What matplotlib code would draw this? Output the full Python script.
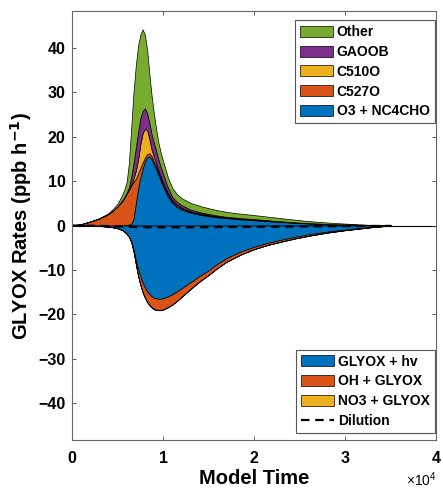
import numpy as np
import matplotlib.pyplot as plt
from matplotlib.ticker import ScalarFormatter

plt.rcParams['font.family'] = ['Liberation Sans', 'DejaVu Sans']
plt.rcParams['font.weight'] = 'bold'
plt.rcParams['mathtext.default'] = 'regular'

# Tempo do modelo (s)
tempo = [0, 1000, 2000, 3000, 4000, 4500, 5000, 5500, 5750, 6000, 6250, 6500,
         6750, 7000, 7250, 7500, 7750, 8000, 8250, 8500, 8750, 9000, 9250, 9500,
         9750, 10000, 10500, 11000, 11500, 12000, 13000, 14000, 15000, 16000,
         17000, 18500, 20000, 21500, 23000, 24500, 26000, 28000, 30000, 33000, 35000]

# Producao (positivo) --------------------------------------------
o3_nc4cho = [0, 0, 0, 0, 0, 0, 0, 0, 0.05, 0.1, 0.2, 0.4, 1.5, 5.0, 8.3, 10.8,
             12.8, 14.5, 15.4, 15.6, 15.0, 13.8, 12.6, 11.3, 10.0, 8.8, 6.6, 5.1,
             4.2, 3.6, 2.9, 2.45, 2.1, 1.85, 1.65, 1.4, 1.2, 1.0, 0.8, 0.62, 0.47,
             0.32, 0.2, 0.06, 0]
c527o = [0, 0.3, 0.9, 1.6, 2.6, 3.4, 4.3, 5.5, 6.2, 7.1, 7.9, 8.6, 8.4, 5.5, 3.4,
         2.2, 1.4, 0.8, 0.7, 0.7, 0.6, 0.6, 0.6, 0.6, 0.55, 0.5, 0.5, 0.4, 0.35,
         0.3, 0.2, 0.18, 0.15, 0.12, 0.1, 0.1, 0.1, 0.07, 0.05, 0.04, 0.03, 0.02,
         0.01, 0, 0]
c510o = [0, 0, 0, 0, 0, 0, 0.05, 0.1, 0.1, 0.1, 0.15, 0.2, 0.7, 1.8, 3.1, 5.3,
         6.6, 6.5, 5.4, 3.2, 1.4, 1.0, 0.7, 0.5, 0.45, 0.4, 0.3, 0.2, 0.17, 0.15,
         0.1, 0.1, 0.1, 0.07, 0.05, 0.05, 0.05, 0.05, 0.05, 0.03, 0.02, 0.01,
         0.01, 0, 0]
gaoob = [0, 0, 0, 0, 0, 0, 0, 0.05, 0.07, 0.1, 0.35, 1.8, 3.4, 5.2, 6.2, 5.9, 5.0,
         4.6, 3.8, 3.5, 3.5, 3.2, 2.8, 2.4, 2.1, 1.9, 1.3, 0.8, 0.65, 0.55, 0.4,
         0.3, 0.25, 0.2, 0.15, 0.12, 0.1, 0.07, 0.05, 0.03, 0.02, 0.01, 0.01, 0, 0]
other = [0, 0, 0, 0.05, 0.2, 0.35, 0.55, 1.2, 1.7, 2.4, 5.6, 11, 16, 18.5, 19.5,
         18.8, 18.4, 16.6, 14.2, 11, 8.5, 6.4, 4.9, 3.7, 3.2, 2.9, 2.3, 1.95,
         1.75, 1.6, 1.5, 1.4, 1.3, 1.2, 1.1, 1.0, 0.9, 0.8, 0.7, 0.58, 0.45,
         0.32, 0.2, 0.06, 0]

# Perda (negativo) -----------------------------------------------
glyox_hv = [0, 0, -0.05, -0.1, -0.25, -0.4, -0.6, -1.0, -1.35, -1.8, -2.5, -3.6,
            -5.5, -7.8, -9.8, -11.5, -12.9, -14.0, -14.9, -15.5, -16.0, -16.3,
            -16.45, -16.5, -16.5, -16.4, -16.0, -15.5, -14.9, -14.2, -12.8, -11.4,
            -10.1, -8.6, -7.3, -5.9, -4.8, -3.9, -3.2, -2.55, -2.0, -1.4, -0.9,
            -0.3, 0]
oh_glyox = [0, 0, 0, 0, 0, 0, -0.02, -0.03, -0.04, -0.05, -0.07, -0.1, -0.3, -0.8,
            -1.5, -1.8, -2.1, -2.2, -2.3, -2.4, -2.4, -2.5, -2.5, -2.5, -2.5, -2.5,
            -2.4, -2.3, -2.1, -1.9, -1.5, -1.2, -1.0, -0.9, -0.8, -0.65, -0.5,
            -0.45, -0.4, -0.35, -0.3, -0.2, -0.15, -0.05, 0]
no3_glyox = [0, 0, 0, 0, 0, 0, 0, 0, 0, -0.02, -0.03, -0.05, -0.08, -0.1, -0.12,
             -0.12, -0.12, -0.12, -0.12, -0.12, -0.12, -0.12, -0.11, -0.1, -0.1,
             -0.1, -0.1, -0.08, -0.075, -0.07, -0.06, -0.055, -0.05, -0.045, -0.04,
             -0.035, -0.03, -0.025, -0.02, -0.015, -0.01, -0.005, 0, 0, 0]
diluicao = [0, -0.02, -0.05, -0.08, -0.12, -0.15, -0.18, -0.22, -0.24, -0.26, -0.28,
            -0.3, -0.32, -0.34, -0.36, -0.37, -0.38, -0.39, -0.4, -0.4, -0.4, -0.4,
            -0.4, -0.4, -0.4, -0.4, -0.4, -0.4, -0.4, -0.4, -0.38, -0.37, -0.36,
            -0.34, -0.33, -0.31, -0.29, -0.27, -0.25, -0.22, -0.2, -0.17, -0.14,
            -0.1, -0.08]

nomes_pos = ["O3 + NC4CHO", "C527O", "C510O", "GAOOB", "Other"]
nomes_neg = ["GLYOX + hv", "OH + GLYOX", "NO3 + GLYOX"]
cores = ["#0072BD", "#D95319", "#EDB120", "#7E2F8E", "#77AC30"]

fig = plt.figure(figsize=(4.43, 4.90), dpi=100)
ax = fig.add_axes([0.1625, 0.1014, 0.8228, 0.8767])

ax.axhline(0, color='k', lw=0.8, zorder=1)
pos = ax.stackplot(tempo, o3_nc4cho, c527o, c510o, gaoob, other,
                   colors=cores, edgecolor='k', linewidth=0.5, labels=nomes_pos)
neg = ax.stackplot(tempo, glyox_hv, oh_glyox, no3_glyox,
                   colors=cores[:3], edgecolor='k', linewidth=0.5, labels=nomes_neg)
dil, = ax.plot(tempo, diluicao, color='k', lw=1.6, dashes=(3.8, 2.6), label="Dilution")

ax.set_xlim(0, 40000)
ax.set_ylim(-48.4, 48.4)
ax.set_xticks([0, 10000, 20000, 30000, 40000])
ax.set_yticks(np.arange(-40, 41, 10))
fmt = ScalarFormatter(useMathText=True)
fmt.set_powerlimits((0, 0))
ax.xaxis.set_major_formatter(fmt)
ax.xaxis.get_offset_text().set_fontsize(10)
ax.xaxis.get_offset_text().set_fontweight('normal')

ax.tick_params(direction='in', length=3, width=0.6, color='#444444',
               labelsize=11.5, top=True, right=True)
ax.tick_params(axis='x', pad=7)
ax.tick_params(axis='y', pad=4.5)
for s in ax.spines.values():
    s.set_color('#666666')
    s.set_linewidth(0.8)

ax.set_xlabel("Model Time", fontsize=14.5, fontweight='bold', labelpad=2)
ax.set_ylabel(r"GLYOX Rates (ppb h$^{\mathbf{-1}}$)", fontsize=14.5, fontweight='bold', labelpad=3)

estilo = dict(borderaxespad=0, fontsize=10, handlelength=2.4, handleheight=0.85,
              labelspacing=0.42, handletextpad=0.25, borderpad=0.35,
              fancybox=False, edgecolor='#555555', framealpha=1)
leg1 = ax.legend(pos[::-1], nomes_pos[::-1], loc='upper right',
                 bbox_to_anchor=(0.995, 0.978), **estilo)
leg1.get_frame().set_linewidth(0.8)
ax.add_artist(leg1)
leg2 = ax.legend(list(neg) + [dil], nomes_neg + ["Dilution"], loc='lower right',
                 bbox_to_anchor=(0.995, 0.017), **estilo)
leg2.get_frame().set_linewidth(0.8)

fig.savefig("out.png", dpi=100)
